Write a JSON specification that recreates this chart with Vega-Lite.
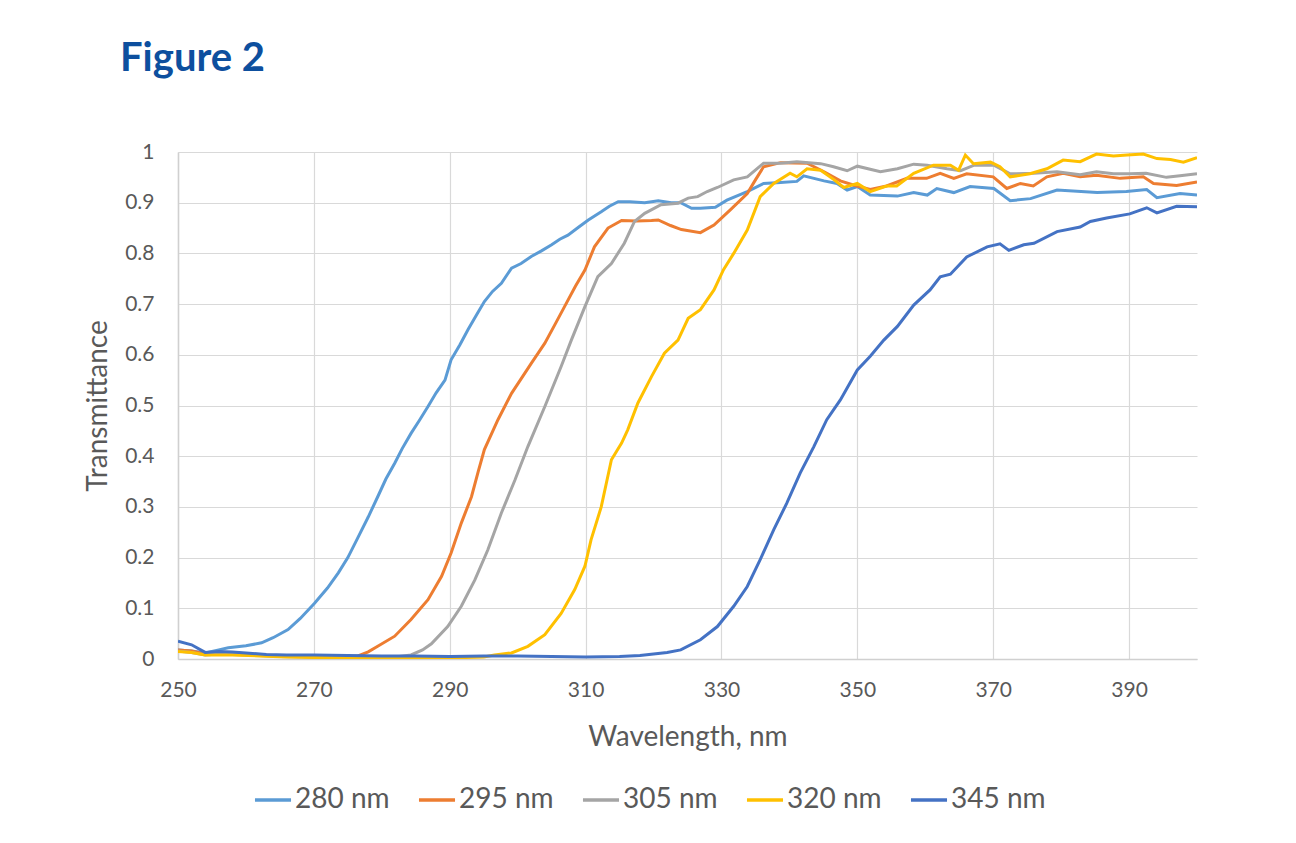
{
  "$schema": "https://vega.github.io/schema/vega-lite/v6.json",
  "width": 1019,
  "height": 507,
  "autosize": "none",
  "padding": {"left": 178, "top": 152, "right": 99, "bottom": 184},
  "background": "white",
  "title": {"text": "Figure 2", "anchor": "start", "frame": "group", "orient": "top", "baseline": "alphabetic", "dx": -58, "offset": 30, "font": "Lato", "fontSize": 40, "fontWeight": "bold", "color": "#0d4f9e"},
  "config": {
    "font": "Lato",
    "view": {"stroke": null},
    "axis": {"labelColor": "#595959", "titleColor": "#595959", "labelFont": "Lato", "titleFont": "Lato", "titleFontWeight": "normal", "gridColor": "#d9d9d9", "gridWidth": 1.2, "domainColor": "#d0d0d0", "domainWidth": 1.5, "ticks": false, "labelFlush": false}
  },
  "data": {"values": [
    {"s":"280 nm","w":250,"t":0.018},{"s":"280 nm","w":252,"t":0.016},{"s":"280 nm","w":254,"t":0.012},{"s":"280 nm","w":256,"t":0.018},{"s":"280 nm","w":257.4,"t":0.022},{"s":"280 nm","w":260,"t":0.026},{"s":"280 nm","w":262.3,"t":0.032},{"s":"280 nm","w":264,"t":0.042},{"s":"280 nm","w":266.2,"t":0.058},{"s":"280 nm","w":268,"t":0.08},{"s":"280 nm","w":270.1,"t":0.11},{"s":"280 nm","w":272,"t":0.14},{"s":"280 nm","w":273.6,"t":0.17},{"s":"280 nm","w":275,"t":0.2},{"s":"280 nm","w":276.5,"t":0.24},{"s":"280 nm","w":278,"t":0.28},{"s":"280 nm","w":279.4,"t":0.32},{"s":"280 nm","w":280.6,"t":0.355},{"s":"280 nm","w":281.9,"t":0.386},{"s":"280 nm","w":283,"t":0.415},{"s":"280 nm","w":284.3,"t":0.445},{"s":"280 nm","w":285.5,"t":0.47},{"s":"280 nm","w":286.8,"t":0.498},{"s":"280 nm","w":288,"t":0.525},{"s":"280 nm","w":289.3,"t":0.55},{"s":"280 nm","w":290.2,"t":0.59},{"s":"280 nm","w":291.5,"t":0.62},{"s":"280 nm","w":292.7,"t":0.65},{"s":"280 nm","w":294,"t":0.68},{"s":"280 nm","w":295.1,"t":0.705},{"s":"280 nm","w":296.3,"t":0.725},{"s":"280 nm","w":297.6,"t":0.741},{"s":"280 nm","w":299.1,"t":0.771},{"s":"280 nm","w":300.5,"t":0.78},{"s":"280 nm","w":302,"t":0.794},{"s":"280 nm","w":303.5,"t":0.805},{"s":"280 nm","w":305,"t":0.817},{"s":"280 nm","w":306.2,"t":0.828},{"s":"280 nm","w":307.4,"t":0.836},{"s":"280 nm","w":309,"t":0.852},{"s":"280 nm","w":310.4,"t":0.866},{"s":"280 nm","w":312.3,"t":0.882},{"s":"280 nm","w":313.5,"t":0.893},{"s":"280 nm","w":314.8,"t":0.902},{"s":"280 nm","w":316.5,"t":0.902},{"s":"280 nm","w":318.7,"t":0.9},{"s":"280 nm","w":320.7,"t":0.904},{"s":"280 nm","w":322.6,"t":0.9},{"s":"280 nm","w":324,"t":0.9},{"s":"280 nm","w":325.6,"t":0.889},{"s":"280 nm","w":326.9,"t":0.889},{"s":"280 nm","w":329.1,"t":0.891},{"s":"280 nm","w":330.8,"t":0.905},{"s":"280 nm","w":333.8,"t":0.922},{"s":"280 nm","w":336.2,"t":0.938},{"s":"280 nm","w":338.7,"t":0.94},{"s":"280 nm","w":341.1,"t":0.942},{"s":"280 nm","w":342.1,"t":0.953},{"s":"280 nm","w":345.1,"t":0.943},{"s":"280 nm","w":347,"t":0.938},{"s":"280 nm","w":348.5,"t":0.925},{"s":"280 nm","w":350,"t":0.932},{"s":"280 nm","w":351.9,"t":0.915},{"s":"280 nm","w":355.9,"t":0.913},{"s":"280 nm","w":358.3,"t":0.92},{"s":"280 nm","w":360.3,"t":0.915},{"s":"280 nm","w":361.7,"t":0.928},{"s":"280 nm","w":364.2,"t":0.92},{"s":"280 nm","w":366.6,"t":0.932},{"s":"280 nm","w":370.1,"t":0.928},{"s":"280 nm","w":372.5,"t":0.904},{"s":"280 nm","w":375.5,"t":0.908},{"s":"280 nm","w":379.4,"t":0.925},{"s":"280 nm","w":385.3,"t":0.92},{"s":"280 nm","w":389.6,"t":0.922},{"s":"280 nm","w":392.6,"t":0.926},{"s":"280 nm","w":394.1,"t":0.91},{"s":"280 nm","w":397.5,"t":0.918},{"s":"280 nm","w":400,"t":0.915},

    {"s":"295 nm","w":250,"t":0.018},{"s":"295 nm","w":252,"t":0.016},{"s":"295 nm","w":254,"t":0.01},{"s":"295 nm","w":256,"t":0.012},{"s":"295 nm","w":260,"t":0.01},{"s":"295 nm","w":264,"t":0.007},{"s":"295 nm","w":268,"t":0.005},{"s":"295 nm","w":272,"t":0.004},{"s":"295 nm","w":275,"t":0.004},{"s":"295 nm","w":276.5,"t":0.006},{"s":"295 nm","w":278,"t":0.014},{"s":"295 nm","w":279.4,"t":0.025},{"s":"295 nm","w":281.9,"t":0.045},{"s":"295 nm","w":284.3,"t":0.078},{"s":"295 nm","w":286.8,"t":0.117},{"s":"295 nm","w":288.8,"t":0.163},{"s":"295 nm","w":290.2,"t":0.209},{"s":"295 nm","w":291.7,"t":0.268},{"s":"295 nm","w":293.2,"t":0.32},{"s":"295 nm","w":294.2,"t":0.37},{"s":"295 nm","w":295.1,"t":0.413},{"s":"295 nm","w":297.1,"t":0.472},{"s":"295 nm","w":299.1,"t":0.524},{"s":"295 nm","w":302,"t":0.583},{"s":"295 nm","w":304,"t":0.623},{"s":"295 nm","w":305.5,"t":0.66},{"s":"295 nm","w":306.9,"t":0.695},{"s":"295 nm","w":308.5,"t":0.735},{"s":"295 nm","w":309.9,"t":0.767},{"s":"295 nm","w":311.3,"t":0.813},{"s":"295 nm","w":313.3,"t":0.85},{"s":"295 nm","w":315.3,"t":0.865},{"s":"295 nm","w":317.5,"t":0.864},{"s":"295 nm","w":319.7,"t":0.865},{"s":"295 nm","w":320.7,"t":0.866},{"s":"295 nm","w":322.5,"t":0.855},{"s":"295 nm","w":324.1,"t":0.847},{"s":"295 nm","w":326.9,"t":0.841},{"s":"295 nm","w":328.9,"t":0.856},{"s":"295 nm","w":331.3,"t":0.886},{"s":"295 nm","w":333.8,"t":0.918},{"s":"295 nm","w":335,"t":0.945},{"s":"295 nm","w":336.2,"t":0.971},{"s":"295 nm","w":338.7,"t":0.979},{"s":"295 nm","w":342.6,"t":0.978},{"s":"295 nm","w":345.1,"t":0.961},{"s":"295 nm","w":347.5,"t":0.943},{"s":"295 nm","w":349.4,"t":0.935},{"s":"295 nm","w":351.9,"t":0.926},{"s":"295 nm","w":354.3,"t":0.933},{"s":"295 nm","w":357.3,"t":0.948},{"s":"295 nm","w":360.2,"t":0.948},{"s":"295 nm","w":362.2,"t":0.958},{"s":"295 nm","w":364.2,"t":0.948},{"s":"295 nm","w":366.1,"t":0.957},{"s":"295 nm","w":370,"t":0.951},{"s":"295 nm","w":372,"t":0.928},{"s":"295 nm","w":374,"t":0.938},{"s":"295 nm","w":375.9,"t":0.933},{"s":"295 nm","w":377.9,"t":0.951},{"s":"295 nm","w":380.3,"t":0.958},{"s":"295 nm","w":382.8,"t":0.951},{"s":"295 nm","w":385.2,"t":0.954},{"s":"295 nm","w":388.7,"t":0.948},{"s":"295 nm","w":392.1,"t":0.951},{"s":"295 nm","w":393.6,"t":0.938},{"s":"295 nm","w":397,"t":0.934},{"s":"295 nm","w":400,"t":0.941},

    {"s":"305 nm","w":250,"t":0.016},{"s":"305 nm","w":252,"t":0.013},{"s":"305 nm","w":254,"t":0.008},{"s":"305 nm","w":256,"t":0.01},{"s":"305 nm","w":260,"t":0.008},{"s":"305 nm","w":265,"t":0.005},{"s":"305 nm","w":270,"t":0.004},{"s":"305 nm","w":275,"t":0.003},{"s":"305 nm","w":280,"t":0.003},{"s":"305 nm","w":282,"t":0.004},{"s":"305 nm","w":284.3,"t":0.008},{"s":"305 nm","w":286,"t":0.018},{"s":"305 nm","w":287.3,"t":0.03},{"s":"305 nm","w":289.7,"t":0.064},{"s":"305 nm","w":291.7,"t":0.104},{"s":"305 nm","w":293.7,"t":0.156},{"s":"305 nm","w":295.6,"t":0.215},{"s":"305 nm","w":297.6,"t":0.288},{"s":"305 nm","w":299.6,"t":0.353},{"s":"305 nm","w":301.5,"t":0.419},{"s":"305 nm","w":304,"t":0.498},{"s":"305 nm","w":306.4,"t":0.577},{"s":"305 nm","w":307.9,"t":0.629},{"s":"305 nm","w":309.9,"t":0.695},{"s":"305 nm","w":311.8,"t":0.754},{"s":"305 nm","w":313.8,"t":0.78},{"s":"305 nm","w":315.7,"t":0.82},{"s":"305 nm","w":317.2,"t":0.863},{"s":"305 nm","w":318.7,"t":0.879},{"s":"305 nm","w":321.1,"t":0.896},{"s":"305 nm","w":323.6,"t":0.899},{"s":"305 nm","w":325.1,"t":0.909},{"s":"305 nm","w":326.5,"t":0.912},{"s":"305 nm","w":327.9,"t":0.922},{"s":"305 nm","w":329.4,"t":0.93},{"s":"305 nm","w":331.8,"t":0.945},{"s":"305 nm","w":333.8,"t":0.951},{"s":"305 nm","w":336.2,"t":0.978},{"s":"305 nm","w":338.7,"t":0.978},{"s":"305 nm","w":341.1,"t":0.981},{"s":"305 nm","w":344.6,"t":0.977},{"s":"305 nm","w":346.5,"t":0.971},{"s":"305 nm","w":348.5,"t":0.963},{"s":"305 nm","w":350,"t":0.972},{"s":"305 nm","w":353.4,"t":0.961},{"s":"305 nm","w":355.9,"t":0.967},{"s":"305 nm","w":358.3,"t":0.976},{"s":"305 nm","w":360.3,"t":0.974},{"s":"305 nm","w":363.2,"t":0.967},{"s":"305 nm","w":365.2,"t":0.963},{"s":"305 nm","w":367.2,"t":0.974},{"s":"305 nm","w":370.1,"t":0.974},{"s":"305 nm","w":372.5,"t":0.957},{"s":"305 nm","w":376,"t":0.958},{"s":"305 nm","w":379.4,"t":0.961},{"s":"305 nm","w":382.8,"t":0.955},{"s":"305 nm","w":385.2,"t":0.961},{"s":"305 nm","w":387.7,"t":0.957},{"s":"305 nm","w":390.1,"t":0.957},{"s":"305 nm","w":392.5,"t":0.958},{"s":"305 nm","w":395.5,"t":0.95},{"s":"305 nm","w":397.5,"t":0.953},{"s":"305 nm","w":400,"t":0.957},

    {"s":"320 nm","w":250,"t":0.015},{"s":"320 nm","w":252,"t":0.013},{"s":"320 nm","w":254,"t":0.008},{"s":"320 nm","w":258,"t":0.008},{"s":"320 nm","w":262,"t":0.006},{"s":"320 nm","w":266,"t":0.004},{"s":"320 nm","w":270,"t":0.003},{"s":"320 nm","w":280,"t":0.002},{"s":"320 nm","w":290,"t":0.002},{"s":"320 nm","w":295,"t":0.004},{"s":"320 nm","w":296.6,"t":0.008},{"s":"320 nm","w":299.1,"t":0.012},{"s":"320 nm","w":301.5,"t":0.025},{"s":"320 nm","w":304,"t":0.048},{"s":"320 nm","w":306.4,"t":0.09},{"s":"320 nm","w":308.4,"t":0.137},{"s":"320 nm","w":309.9,"t":0.183},{"s":"320 nm","w":310.8,"t":0.235},{"s":"320 nm","w":312.3,"t":0.3},{"s":"320 nm","w":313.8,"t":0.393},{"s":"320 nm","w":315.3,"t":0.426},{"s":"320 nm","w":316.2,"t":0.452},{"s":"320 nm","w":317.7,"t":0.505},{"s":"320 nm","w":319.7,"t":0.557},{"s":"320 nm","w":321.6,"t":0.603},{"s":"320 nm","w":323.6,"t":0.629},{"s":"320 nm","w":325.1,"t":0.672},{"s":"320 nm","w":326.9,"t":0.689},{"s":"320 nm","w":328.9,"t":0.728},{"s":"320 nm","w":330.3,"t":0.768},{"s":"320 nm","w":331.8,"t":0.8},{"s":"320 nm","w":333.8,"t":0.846},{"s":"320 nm","w":335.7,"t":0.912},{"s":"320 nm","w":337.7,"t":0.938},{"s":"320 nm","w":340.1,"t":0.958},{"s":"320 nm","w":341.1,"t":0.951},{"s":"320 nm","w":342.6,"t":0.967},{"s":"320 nm","w":344.6,"t":0.964},{"s":"320 nm","w":346.6,"t":0.945},{"s":"320 nm","w":348,"t":0.93},{"s":"320 nm","w":350,"t":0.938},{"s":"320 nm","w":351.9,"t":0.922},{"s":"320 nm","w":354.3,"t":0.933},{"s":"320 nm","w":355.8,"t":0.933},{"s":"320 nm","w":358.3,"t":0.958},{"s":"320 nm","w":361.2,"t":0.974},{"s":"320 nm","w":363.7,"t":0.974},{"s":"320 nm","w":364.9,"t":0.964},{"s":"320 nm","w":365.9,"t":0.994},{"s":"320 nm","w":367.1,"t":0.977},{"s":"320 nm","w":369.6,"t":0.98},{"s":"320 nm","w":371,"t":0.971},{"s":"320 nm","w":372.5,"t":0.951},{"s":"320 nm","w":375.4,"t":0.957},{"s":"320 nm","w":377.9,"t":0.967},{"s":"320 nm","w":380.3,"t":0.984},{"s":"320 nm","w":382.8,"t":0.981},{"s":"320 nm","w":385.2,"t":0.996},{"s":"320 nm","w":387.7,"t":0.992},{"s":"320 nm","w":389.7,"t":0.994},{"s":"320 nm","w":392.1,"t":0.996},{"s":"320 nm","w":394.1,"t":0.987},{"s":"320 nm","w":396.1,"t":0.985},{"s":"320 nm","w":398,"t":0.98},{"s":"320 nm","w":400,"t":0.989},

    {"s":"345 nm","w":250,"t":0.035},{"s":"345 nm","w":252,"t":0.028},{"s":"345 nm","w":254,"t":0.013},{"s":"345 nm","w":256,"t":0.015},{"s":"345 nm","w":258,"t":0.014},{"s":"345 nm","w":260,"t":0.012},{"s":"345 nm","w":263,"t":0.009},{"s":"345 nm","w":266,"t":0.008},{"s":"345 nm","w":270,"t":0.008},{"s":"345 nm","w":275,"t":0.007},{"s":"345 nm","w":280,"t":0.006},{"s":"345 nm","w":285,"t":0.006},{"s":"345 nm","w":290,"t":0.005},{"s":"345 nm","w":295,"t":0.006},{"s":"345 nm","w":300,"t":0.006},{"s":"345 nm","w":305,"t":0.005},{"s":"345 nm","w":310,"t":0.004},{"s":"345 nm","w":315,"t":0.005},{"s":"345 nm","w":318,"t":0.007},{"s":"345 nm","w":320,"t":0.01},{"s":"345 nm","w":322,"t":0.013},{"s":"345 nm","w":324,"t":0.018},{"s":"345 nm","w":326.9,"t":0.038},{"s":"345 nm","w":329.4,"t":0.064},{"s":"345 nm","w":331.8,"t":0.104},{"s":"345 nm","w":333.8,"t":0.143},{"s":"345 nm","w":335.7,"t":0.196},{"s":"345 nm","w":337.7,"t":0.255},{"s":"345 nm","w":339.6,"t":0.307},{"s":"345 nm","w":341.6,"t":0.367},{"s":"345 nm","w":343.6,"t":0.419},{"s":"345 nm","w":345.5,"t":0.472},{"s":"345 nm","w":347.5,"t":0.511},{"s":"345 nm","w":350,"t":0.57},{"s":"345 nm","w":351.9,"t":0.597},{"s":"345 nm","w":353.9,"t":0.629},{"s":"345 nm","w":355.9,"t":0.656},{"s":"345 nm","w":358.3,"t":0.698},{"s":"345 nm","w":360.7,"t":0.728},{"s":"345 nm","w":362.2,"t":0.754},{"s":"345 nm","w":363.7,"t":0.759},{"s":"345 nm","w":366.1,"t":0.793},{"s":"345 nm","w":369.1,"t":0.813},{"s":"345 nm","w":371,"t":0.819},{"s":"345 nm","w":372.3,"t":0.806},{"s":"345 nm","w":374.5,"t":0.817},{"s":"345 nm","w":376,"t":0.82},{"s":"345 nm","w":379.4,"t":0.843},{"s":"345 nm","w":382.8,"t":0.852},{"s":"345 nm","w":384.3,"t":0.863},{"s":"345 nm","w":386.7,"t":0.87},{"s":"345 nm","w":390.1,"t":0.878},{"s":"345 nm","w":392.6,"t":0.89},{"s":"345 nm","w":394.1,"t":0.88},{"s":"345 nm","w":397,"t":0.893},{"s":"345 nm","w":400,"t":0.892}
  ]},
  "mark": {"type": "line", "strokeWidth": 3, "clip": true},
  "encoding": {
    "x": {"field": "w", "type": "quantitative", "scale": {"domain": [250, 400], "nice": false, "zero": false},
      "axis": {"title": "Wavelength, nm", "values": [250, 270, 290, 310, 330, 350, 370, 390], "labelFontSize": 21, "labelPadding": 20, "titleFontSize": 28, "titlePadding": 23, "grid": true}},
    "y": {"field": "t", "type": "quantitative", "scale": {"domain": [0, 1], "nice": false},
      "axis": {"title": "Transmittance", "values": [0, 0.1, 0.2, 0.3, 0.4, 0.5, 0.6, 0.7, 0.8, 0.9, 1], "format": ".1~f", "labelFontSize": 21, "labelPadding": 24, "titleFontSize": 28, "titlePadding": 12, "grid": true}},
    "color": {"field": "s", "type": "nominal",
      "scale": {"domain": ["280 nm", "295 nm", "305 nm", "320 nm", "345 nm"], "range": ["#5b9bd5", "#ed7d31", "#a5a5a5", "#ffc000", "#4472c4"]},
      "legend": {"title": null, "orient": "none", "direction": "horizontal", "legendX": 75, "legendY": 628, "symbolType": "stroke", "symbolSize": 1300, "symbolStrokeWidth": 3.5, "labelFontSize": 28, "labelColor": "#595959", "labelFont": "Lato", "labelOffset": 2, "columnPadding": 21}}
  }
}
